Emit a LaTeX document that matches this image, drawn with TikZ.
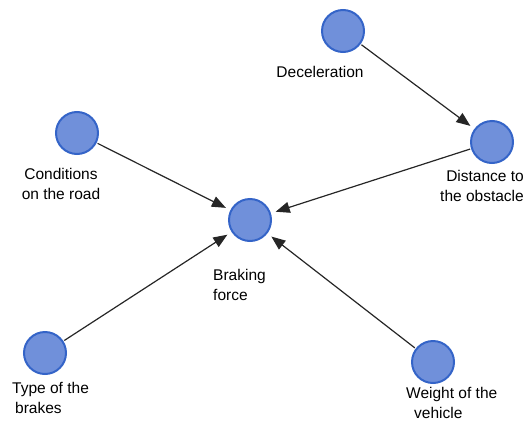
\documentclass[tikz,border=0pt]{standalone}
\usepackage{fontspec}
\setmainfont{Liberation Sans}
\usetikzlibrary{arrows.meta}
\definecolor{nodefill}{RGB}{112,144,218}
\definecolor{nodeline}{RGB}{52,100,200}
\tikzset{
  ball/.style={circle, draw=nodeline, fill=nodefill, line width=2pt, minimum size=42pt, inner sep=0pt},
  lbl/.style={font=\fontsize{15.5}{20}\selectfont, inner sep=0pt, text=black},
  link/.style={draw=black!85, line width=1.2pt, shorten >=5pt, shorten <=1pt, -{Triangle[length=14pt,width=11pt]}}
}
\begin{document}
\begin{tikzpicture}[x=1pt,y=-1pt]
\useasboundingbox (0,0) rectangle (526,423);
\node[ball] (dec) at (343,31) {};
\node[ball] (dist) at (492,142) {};
\node[ball] (cond) at (77,133) {};
\node[ball] (brake) at (250,220) {};
\node[ball] (type) at (45,353) {};
\node[ball] (weight) at (433,362) {};

\node[lbl] (ldec) at (320,72) {Deceleration};
\node[lbl, align=right, anchor=east] (ldist) at (524,186) {Distance to\\the obstacle};
\node[lbl, align=center] (lcond) at (61,184) {Conditions\\on the road};
\node[lbl, align=left, anchor=west] (lbrake) at (213,285) {Braking\\force};
\node[lbl, align=left, anchor=west] (ltype) at (12,398) {Type of the\\\hspace*{3pt}brakes};
\node[lbl, align=left, anchor=west] (lweight) at (406,403) {Weight of the\\\hspace*{8pt}vehicle};

\draw[link] (dec) -- (dist);
\draw[link] (dist) -- (brake);
\draw[link] (cond) -- (brake);
\draw[link] (type) -- (brake);
\draw[link] (weight) -- (brake);
\end{tikzpicture}
\end{document}
